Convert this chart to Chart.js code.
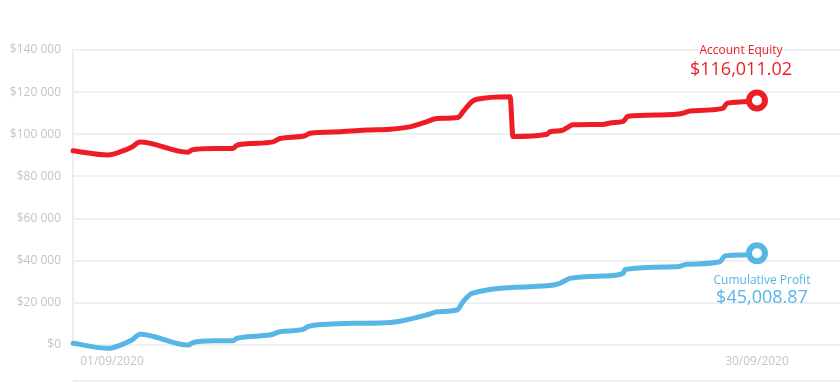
<!DOCTYPE html>
<html>
<head>
<meta charset="utf-8">
<script src="https://cdn.jsdelivr.net/npm/chart.js@4/dist/chart.umd.min.js"></script>
<style>
  html, body { margin: 0; padding: 0; background: #ffffff; overflow: hidden; }
  #wrap { width: 840px; height: 383px; position: relative; }
  canvas { display: block; }
</style>
</head>
<body>
<div id="wrap"><canvas id="c" width="840" height="383"></canvas></div>
<script>
// Day of September 2020 (fractional) for each reading
const equityDays = [-0.75, 0.82, 1.36, 1.90, 2.26, 4.42, 4.60, 5.54, 6.44, 6.62, 7.20, 8.24, 8.55, 9.68, 9.90, 11.25, 12.47, 13.50, 14.53, 15.16, 15.61, 16.56, 16.78, 17.19, 17.41, 18.90, 19.03, 20.56, 20.69, 21.23, 21.46, 21.73, 23.08, 23.48, 23.98, 24.20, 25.64, 26.67, 26.99, 28.47, 28.65, 29.37, 30.00];
const equityValues = [92200, 90200, 91600, 94000, 96300, 91500, 92600, 93300, 93300, 94800, 95600, 96400, 98000, 99300, 100500, 101200, 102000, 102400, 103900, 106000, 107500, 108000, 110700, 115600, 116600, 117800, 98900, 100000, 101200, 101800, 103100, 104500, 104700, 105500, 106100, 108600, 109200, 110000, 111100, 112300, 114700, 115400, 116011.02];

const profitDays = [-0.75, 0.82, 1.04, 1.58, 1.90, 2.26, 4.42, 4.64, 5.54, 6.44, 6.62, 8.10, 8.55, 9.59, 9.81, 10.67, 12.00, 13.50, 15.29, 15.61, 16.51, 16.78, 17.19, 20.56, 21.14, 21.59, 23.08, 23.98, 24.07, 26.40, 26.85, 28.33, 28.56, 29.37, 30.00];
const profitValues = [800, -1600, -1300, 800, 2400, 5100, 0, 1100, 2000, 2000, 3200, 4700, 6300, 7400, 8700, 9800, 10300, 10700, 14700, 15800, 16600, 20500, 24500, 28100, 29300, 31600, 32700, 34000, 35900, 37100, 38300, 39500, 42200, 42700, 43500];

const xTickDays = [1, 30];
const xTickLabels = ['01/09/2020', '30/09/2020'];

const equityTitle = 'Account Equity';
const equityLabel = '$116,011.02';
const profitTitle = 'Cumulative Profit';
const profitLabel = '$45,008.87';

const RED = '#ee1d25';
const BLUE = '#58b6e6';

function toPoints(xs, ys) { return xs.map((x, i) => ({ x: x, y: ys[i] })); }
function lastOnly(r) { return ctx => ctx.dataIndex === ctx.dataset.data.length - 1 ? r : 0; }

const endLabels = {
  id: 'endLabels',
  afterDatasetsDraw(chart) {
    const c = chart.ctx;
    const rm = chart.getDatasetMeta(0), bm = chart.getDatasetMeta(1);
    const rp = rm.data[rm.data.length - 1], bp = bm.data[bm.data.length - 1];
    c.save();
    c.textAlign = 'center';
    c.textBaseline = 'middle';
    c.fillStyle = RED;
    c.font = '12px "Open Sans"';
    c.fillText(equityTitle, rp.x - 16, rp.y - 50);
    c.font = '18px "Open Sans"';
    c.fillText(equityLabel, rp.x - 16, rp.y - 31);
    c.fillStyle = BLUE;
    c.font = '12px "Open Sans"';
    c.fillText(profitTitle, bp.x + 5, bp.y + 27);
    c.font = '18px "Open Sans"';
    c.fillText(profitLabel, bp.x + 5, bp.y + 45);
    // bottom separator
    const a = chart.chartArea;
    c.strokeStyle = '#eeeeee';
    c.lineWidth = 2;
    c.beginPath();
    c.moveTo(a.left, 381);
    c.lineTo(a.right, 381);
    c.stroke();
    c.restore();
  }
};

new Chart(document.getElementById('c'), {
  type: 'line',
  data: {
    datasets: [
      {
        label: equityTitle,
        data: toPoints(equityDays, equityValues),
        borderColor: RED,
        borderWidth: 5,
        cubicInterpolationMode: 'monotone',
        borderJoinStyle: 'round',
        borderCapStyle: 'round',
        pointRadius: lastOnly(8),
        pointHoverRadius: lastOnly(8),
        pointBorderWidth: 6,
        pointBorderColor: RED,
        pointBackgroundColor: '#ffffff',
        clip: 12
      },
      {
        label: profitTitle,
        data: toPoints(profitDays, profitValues),
        borderColor: BLUE,
        borderWidth: 5,
        cubicInterpolationMode: 'monotone',
        borderJoinStyle: 'round',
        borderCapStyle: 'round',
        pointRadius: lastOnly(8),
        pointHoverRadius: lastOnly(8),
        pointBorderWidth: 6,
        pointBorderColor: BLUE,
        pointBackgroundColor: '#ffffff',
        clip: 12
      }
    ]
  },
  options: {
    responsive: false,
    animation: false,
    events: [],
    layout: { autoPadding: false, padding: { top: 50, right: 0, bottom: 0, left: 0 } },
    plugins: { legend: { display: false }, tooltip: { enabled: false } },
    scales: {
      x: {
        type: 'linear',
        min: -0.7535,
        max: 33.733,
        afterBuildTicks(scale) { scale.ticks = xTickDays.map(v => ({ value: v })); },
        afterFit(scale) { scale.height = 38; scale.paddingLeft = 0; scale.paddingRight = 0; },
        grid: { display: false, drawTicks: false },
        border: { display: false },
        ticks: {
          padding: 9,
          maxRotation: 0,
          autoSkip: false,
          color: '#c4c4c4',
          font: { family: 'Open Sans', size: 12 },
          callback(v) { const i = xTickDays.indexOf(v); return i >= 0 ? xTickLabels[i] : ''; }
        }
      },
      y: {
        min: 0,
        max: 140000,
        afterFit(scale) { scale.width = 73; },
        grid: { color: '#f0f0f0', lineWidth: 2, drawTicks: false },
        border: { display: true, color: '#eeeeee', width: 2 },
        ticks: {
          stepSize: 20000,
          padding: 12,
          color: '#c4c4c4',
          font: { family: 'Open Sans', size: 12 },
          callback(v) { return '$' + String(v).replace(/\B(?=(\d{3})+(?!\d))/g, ' '); }
        }
      }
    }
  },
  plugins: [endLabels]
});
</script>
</body>
</html>
